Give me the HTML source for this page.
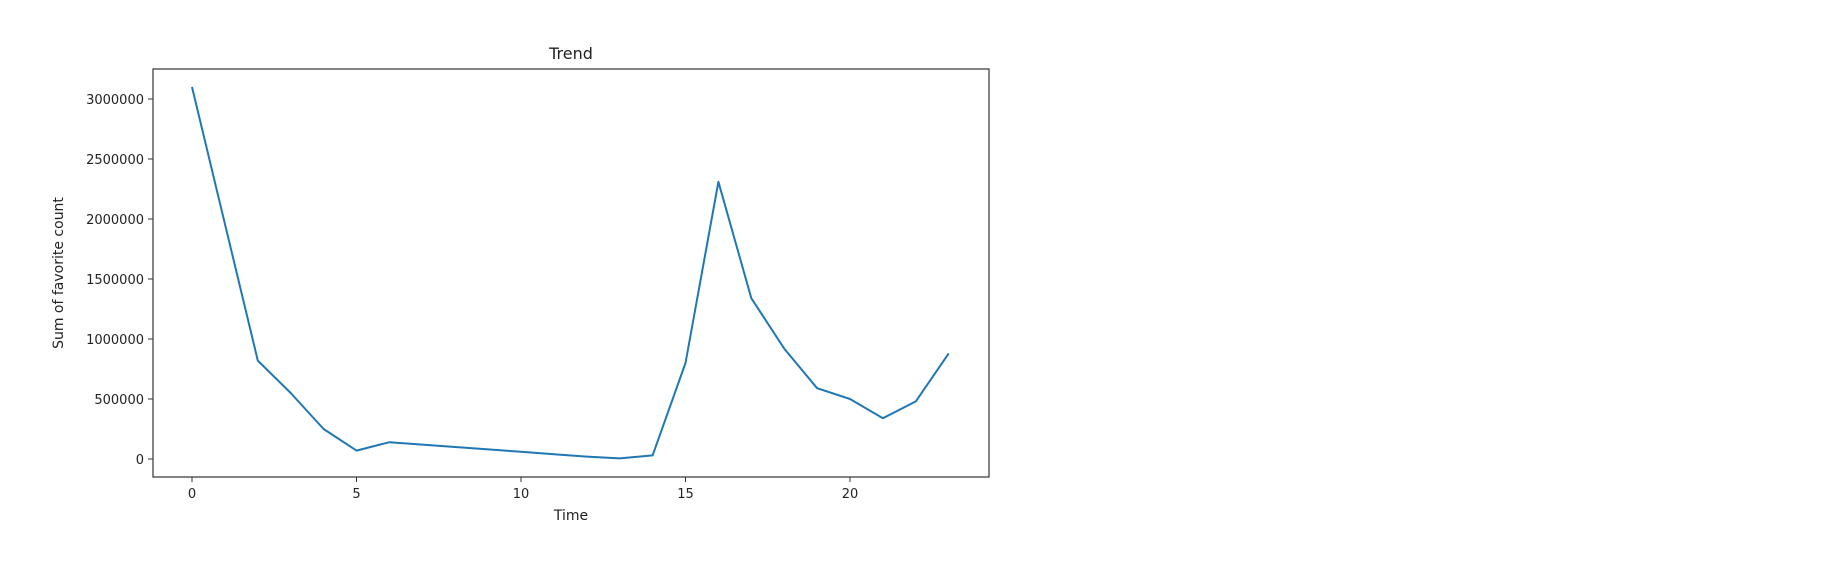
<!DOCTYPE html>
<html><head><meta charset="utf-8"><style>
html,body{margin:0;padding:0;background:#fff;}
svg{display:block;font-family:"DejaVu Sans","Liberation Sans",sans-serif;}
</style></head><body>
<svg id="chart" width="1828" height="568">
<text x="571" y="59" font-size="16" text-anchor="middle" fill="#222">Trend</text>
<text x="571" y="520" font-size="14" text-anchor="middle" fill="#222">Time</text>
<text transform="translate(63,273) rotate(-90)" font-size="14" text-anchor="middle" fill="#222">Sum of favorite count</text>
<g id="ticks"></g>
<polyline id="line" fill="none" stroke="#1f77b4" stroke-width="2" stroke-linejoin="round"/>
<rect x="153" y="69" width="836" height="408" fill="none" stroke="#333" stroke-width="1.2"/>
</svg>
<script>
const hours = [0,1,2,3,4,5,6,7,8,9,10,11,12,13,14,15,16,17,18,19,20,21,22,23];
const favorites = [3100000,1960000,820000,550000,250000,70000,140000,120000,100000,80000,60000,40000,20000,5000,30000,800000,2310000,1340000,920000,590000,500000,340000,480000,880000];
const xTicks = [0,5,10,15,20];
const yTicks = [0,500000,1000000,1500000,2000000,2500000,3000000];
const NS='http://www.w3.org/2000/svg';
function xs(v){return 192+v*32.9;}
function ys(v){return 459-v*(360/3000000);}
const g=document.getElementById('ticks');
xTicks.forEach(t=>{
  const l=document.createElementNS(NS,'line');
  l.setAttribute('x1',xs(t));l.setAttribute('x2',xs(t));l.setAttribute('y1',477);l.setAttribute('y2',482);l.setAttribute('stroke','#333');
  
  
  g.appendChild(l);
  const tx=document.createElementNS(NS,'text');
  tx.setAttribute('x',xs(t));tx.setAttribute('y',498);tx.setAttribute('font-size','13');tx.setAttribute('text-anchor','middle');tx.setAttribute('fill','#222');
  tx.textContent=t;
  
  
  g.appendChild(tx);
});
yTicks.forEach(t=>{
  const l=document.createElementNS(NS,'line');
  l.setAttribute('x1',148);l.setAttribute('x2',153);l.setAttribute('y1',ys(t));l.setAttribute('y2',ys(t));l.setAttribute('stroke','#333');
  
  
  g.appendChild(l);
  const tx=document.createElementNS(NS,'text');
  tx.setAttribute('x',144);tx.setAttribute('y',ys(t)+5);tx.setAttribute('font-size','13');tx.setAttribute('text-anchor','end');tx.setAttribute('fill','#222');
  tx.textContent=t;
  
  
  g.appendChild(tx);
});
document.getElementById('line').setAttribute('points',hours.map((h,i)=>xs(h)+','+ys(favorites[i])).join(' '));
</script>
</body></html>
